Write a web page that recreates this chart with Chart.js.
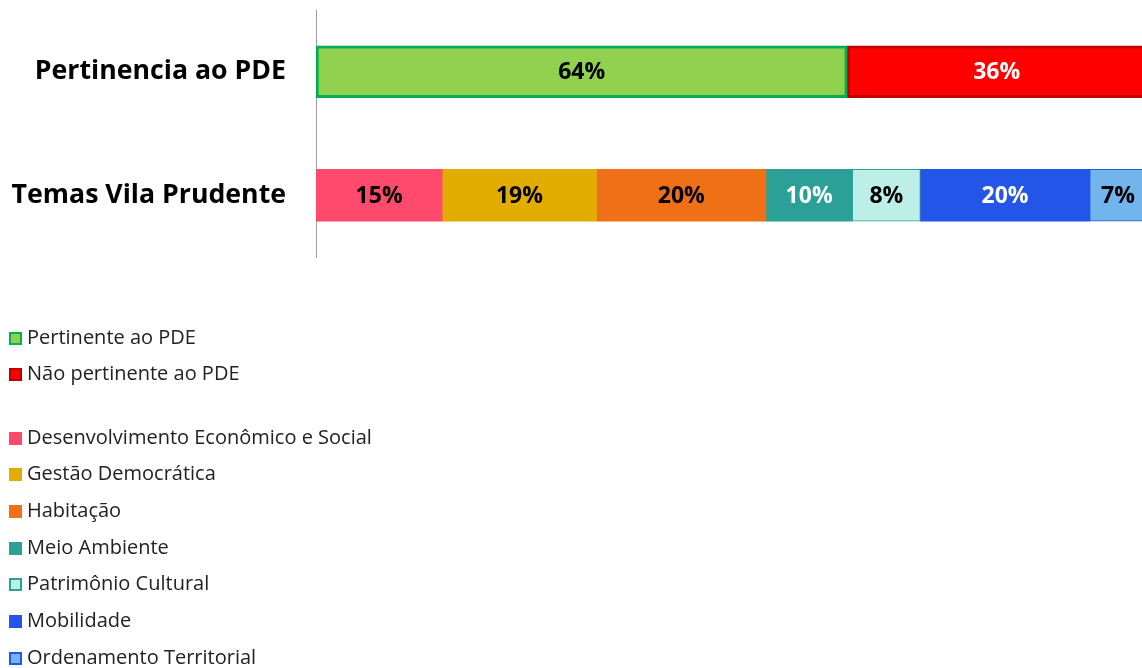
<!DOCTYPE html>
<html>
<head>
<meta charset="utf-8">
<script src="https://cdn.jsdelivr.net/npm/chart.js@4/dist/chart.umd.min.js"></script>
<style>
html,body{margin:0;padding:0;background:#fff;overflow:hidden;}
#wrap{position:relative;width:1142px;height:668px;}
</style>
</head>
<body>
<div id="wrap"><canvas id="c"></canvas></div>
<script>
const categories = ['Pertinencia ao PDE', 'Temas Vila Prudente'];

const pertinenceSeries = ['Pertinente ao PDE', 'Não pertinente ao PDE'];
const pertinenceValues = [64, 36];

const themeSeries = ['Desenvolvimento Econômico e Social', 'Gestão Democrática', 'Habitação', 'Meio Ambiente', 'Patrimônio Cultural', 'Mobilidade', 'Ordenamento Territorial'];
const themeValues = [15.2, 18.6, 20.4, 10.4, 8.2, 20.4, 6.8];

const pertinenceColors = ['#92D050', '#FF0000'];
const pertinenceBorders = ['#00B050', '#C00000'];
const pertinenceLabelColors = ['#000000', '#FFFFFF'];
const themeColors = ['#FF4A6E', '#E2AC00', '#F07018', '#2AA096', '#BDEEE8', '#2356E8', '#72B4EC'];
const themeBorders = ['#FF4A6E', '#E2AC00', '#F07018', '#2AA096', '#2AA096', '#2356E8', '#2356E8'];
const themeLabelColors = ['#000000', '#000000', '#000000', '#FFFFFF', '#000000', '#FFFFFF', '#000000'];

const datasets = [];
pertinenceSeries.forEach((name, i) => {
  datasets.push({
    label: name,
    data: [pertinenceValues[i], null],
    backgroundColor: pertinenceColors[i],
    borderColor: pertinenceBorders[i],
    borderWidth: 3,
    borderSkipped: false,
    labelColor: pertinenceLabelColors[i]
  });
});
themeSeries.forEach((name, i) => {
  datasets.push({
    label: name,
    data: [null, themeValues[i]],
    backgroundColor: themeColors[i],
    borderColor: themeBorders[i],
    borderWidth: (i === 4 || i === 6) ? 1 : 0,
    borderSkipped: false,
    labelColor: themeLabelColors[i]
  });
});

const valueLabels = {
  id: 'valueLabels',
  afterDatasetsDraw(chart) {
    const ctx = chart.ctx;
    ctx.save();
    ctx.font = 'bold 23px "Open Sans"';
    ctx.textAlign = 'center';
    ctx.textBaseline = 'middle';
    chart.data.datasets.forEach((ds, di) => {
      const meta = chart.getDatasetMeta(di);
      meta.data.forEach((el, idx) => {
        const v = ds.data[idx];
        if (v == null) return;
        const cx = (el.x + el.base) / 2;
        ctx.fillStyle = ds.labelColor;
        ctx.fillText(Math.round(v) + '%', cx, el.y + 1);
      });
    });
    ctx.restore();
  }
};

const customLegend = {
  id: 'customLegend',
  afterDraw(chart) {
    const ctx = chart.ctx;
    ctx.save();
    ctx.font = '20px "Open Sans"';
    ctx.textBaseline = 'middle';
    ctx.textAlign = 'left';
    const rowsY = [338, 374, 438, 474, 511, 548, 584, 621, 658];
    chart.data.datasets.forEach((ds, i) => {
      const y = rowsY[i];
      ctx.fillStyle = ds.backgroundColor;
      ctx.fillRect(9, y - 6, 13, 13);
      ctx.strokeStyle = ds.borderColor;
      ctx.lineWidth = 2;
      ctx.strokeRect(10, y - 5, 11, 11);
      ctx.fillStyle = '#222222';
      ctx.fillText(ds.label, 27, y);
    });
    ctx.restore();
  }
};

new Chart(document.getElementById('c'), {
  type: 'bar',
  data: { labels: categories, datasets },
  options: {
    indexAxis: 'y',
    responsive: true,
    maintainAspectRatio: false,
    animation: false,
    layout: { padding: { top: 10, bottom: 411, left: 0, right: 0 } },
    datasets: { bar: { barThickness: 52 } },
    plugins: { legend: { display: false }, tooltip: { enabled: false } },
    scales: {
      x: { stacked: true, min: 0, max: 99.5, display: false },
      y: {
        stacked: true,
        grid: { display: false, drawTicks: false },
        border: { display: true, color: '#9a9a9a', width: 1 },
        ticks: { color: '#000', font: { family: 'Open Sans', size: 26.7, weight: 'bold' }, padding: 30 },
        afterFit(s) { s.width = 316; s.paddingTop = 0; s.paddingBottom = 0; }
      }
    }
  },
  plugins: [valueLabels, customLegend]
});
</script>
</body>
</html>
